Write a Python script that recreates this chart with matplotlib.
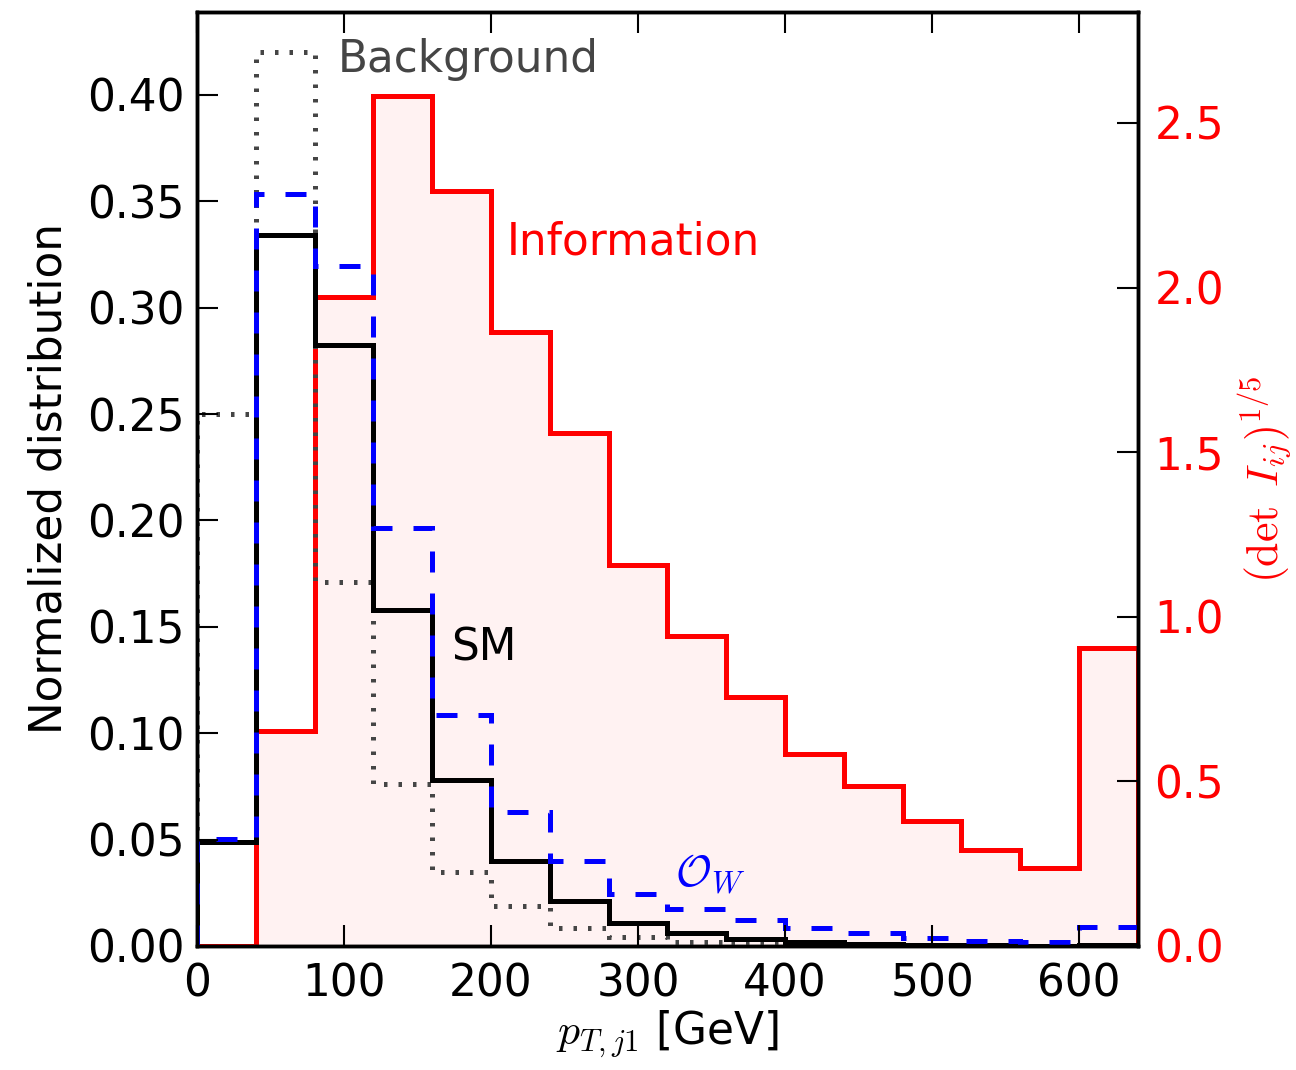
import matplotlib
matplotlib.use("Agg")
import matplotlib.pyplot as plt
import numpy as np

plt.rcParams["mathtext.fontset"] = "cm"
plt.rcParams["font.family"] = "DejaVu Sans"
plt.rcParams["font.size"] = 31.5

# bin edges of leading jet pT [GeV]
edges = np.arange(0, 680, 40)

# normalized distributions (left axis)
sm = [0.049, 0.334, 0.2825, 0.158, 0.078, 0.040, 0.021, 0.0108, 0.0061, 0.0031,
      0.0017, 0.0008, 0.0005, 0.0003, 0.0002, 0.0004]
background = [0.250, 0.420, 0.171, 0.076, 0.035, 0.0188, 0.0085, 0.0044, 0.0020,
              0.0008, 0.0004, 0.0002, 0.0001, 0.0001, 0.0001, 0.0001]
ow = [0.0503, 0.3535, 0.3198, 0.1963, 0.1086, 0.0631, 0.0400, 0.0244, 0.0172,
      0.0122, 0.0083, 0.0060, 0.0039, 0.0025, 0.0017, 0.0088]

# information (right axis)
info = [0.0, 0.653, 1.970, 2.582, 2.293, 1.866, 1.557, 1.156, 0.942, 0.755,
        0.583, 0.487, 0.380, 0.292, 0.238, 0.904]

xticks = [0, 100, 200, 300, 400, 500, 600]
left_ticks = np.arange(0, 0.41, 0.05)
right_ticks = np.arange(0, 2.51, 0.5)

fig = plt.figure(figsize=(12.96, 10.70), dpi=100)
ax = fig.add_axes([0.152, 0.1159, 0.726, 0.8729])
ax2 = ax.twinx()

# red information histogram sits below the other curves
ax2.stairs(info, edges, fill=True, color="red", alpha=0.05, lw=0)
ax2.stairs(info, edges, color="red", lw=3.6)
ax.set_zorder(ax2.get_zorder() + 1)
ax.patch.set_visible(False)

ax.stairs(background, edges, color="0.27", lw=3.6, linestyle=(0, (0.7, 2.2)))
ax.stairs(sm, edges, color="black", lw=3.6)
ax.stairs(ow, edges, color="blue", lw=3.6, linestyle=(0, (4.2, 4.2)))

ax.text(96, 0.4165, "Background", color="0.27", ha="left", va="center")
ax.text(211, 0.331, "Information", color="red", ha="left", va="center")
ax.text(172.8, 0.140, "SM", color="black", ha="left", va="center")
ax.text(325, 0.0334, r"$\mathcal{O}_W$", color="blue", ha="left", va="center")

ax.set_xlim(0, 640)
ax.set_ylim(0, 0.439)
ax2.set_ylim(0, 2.837)

ax.set_xticks(xticks)
ax.set_yticks(left_ticks)
ax.set_yticklabels(["%.2f" % t for t in left_ticks])
ax2.set_yticks(right_ticks)
ax2.set_yticklabels(["%.1f" % t for t in right_ticks])

ax.tick_params(axis="x", direction="in", length=15, width=1.5, top=True, pad=12)
ax.tick_params(axis="y", direction="in", length=15, width=1.5, right=False, pad=9)
ax2.tick_params(axis="y", direction="in", length=15, width=1.5, colors="red",
                labelcolor="red", pad=12)
ax2.tick_params(axis="y", color="black")
for a in (ax, ax2):
    for s in a.spines.values():
        s.set_linewidth(2.5)

ax.set_xlabel(r"$p_{T,j1}$ [GeV]", labelpad=2)
ax.set_ylabel("Normalized distribution", labelpad=12)
ax2.set_ylabel(r"$(\det\ I_{ij})^{1/5}$", color="red", labelpad=9)

fig.savefig("out.png", dpi=100)
